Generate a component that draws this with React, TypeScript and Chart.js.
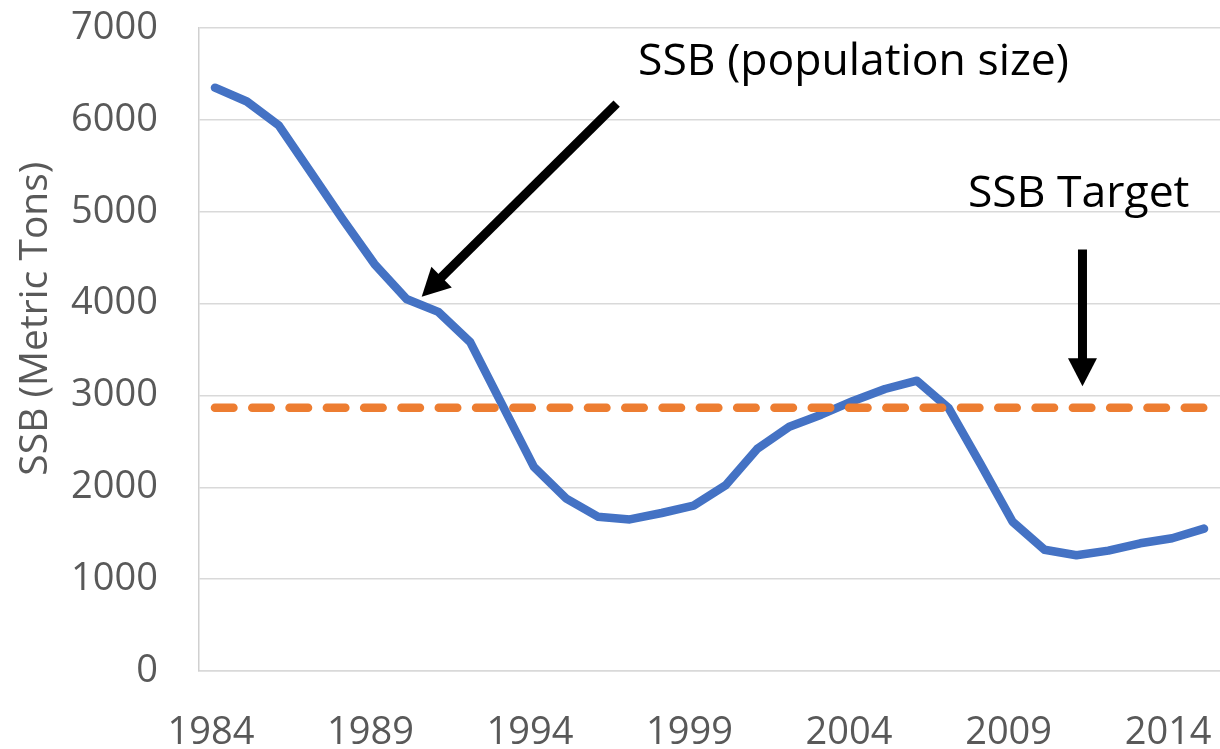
import React, { useEffect, useRef } from 'react';
import { Chart, registerables } from 'chart.js';

Chart.register(...registerables);

// ---- Data ----
const years = [
  '1984', '1985', '1986', '1987', '1988', '1989', '1990', '1991', '1992', '1993',
  '1994', '1995', '1996', '1997', '1998', '1999', '2000', '2001', '2002', '2003',
  '2004', '2005', '2006', '2007', '2008', '2009', '2010', '2011', '2012', '2013',
  '2014', '2015',
];

const ssbValues = [
  6350, 6200, 5940, 5430, 4920, 4430, 4050, 3910, 3580, 2900,
  2220, 1880, 1680, 1650, 1720, 1800, 2020, 2420, 2660, 2790,
  2940, 3070, 3160, 2860, 2250, 1625, 1320, 1260, 1310, 1390,
  1445, 1550,
];

const ssbTarget = [
  2865, 2865, 2865, 2865, 2865, 2865, 2865, 2865, 2865, 2865,
  2865, 2865, 2865, 2865, 2865, 2865, 2865, 2865, 2865, 2865,
  2865, 2865, 2865, 2865, 2865, 2865, 2865, 2865, 2865, 2865,
  2865, 2865,
];

const xTickLabels = ['1984', '1989', '1994', '1999', '2004', '2009', '2014'];

const yMin = 0;
const yMax = 7000;
const yStep = 1000;

const yAxisTitle = 'SSB (Metric Tons)';

// Annotations in data space (year, value)
const textNotes = [
  { text: 'SSB (population size)', year: 1997.26, value: 6485 },
  { text: 'SSB Target', year: 2007.6, value: 5052 },
];

const arrowNotes = [
  { fromYear: 1996.59, fromValue: 6177, toYear: 1990.48, toValue: 4073 },
  { fromYear: 2011.19, fromValue: 4589, toYear: 2011.19, toValue: 3101 },
];

const FONT = "'Open Sans', 'Noto Sans', sans-serif";

const annotationPlugin = {
  id: 'ssbAnnotations',
  afterDatasetsDraw(chart: any) {
    const { ctx, scales } = chart;
    const xs = scales.x;
    const ys = scales.y;
    const px = (yr: number) => xs.getPixelForValue(yr - 1984);
    const py = (v: number) => ys.getPixelForValue(v);

    ctx.save();
    // Arrows
    for (const a of arrowNotes) {
      const x1 = px(a.fromYear);
      const y1 = py(a.fromValue);
      const x2 = px(a.toYear);
      const y2 = py(a.toValue);
      const ang = Math.atan2(y2 - y1, x2 - x1);
      const headLen = 28;
      const headHalf = 14.5;
      const bx = x2 - headLen * Math.cos(ang);
      const by = y2 - headLen * Math.sin(ang);
      ctx.strokeStyle = '#000000';
      ctx.fillStyle = '#000000';
      ctx.lineWidth = 9;
      ctx.lineCap = 'butt';
      ctx.beginPath();
      ctx.moveTo(x1, y1);
      ctx.lineTo(bx + Math.cos(ang) * 2, by + Math.sin(ang) * 2);
      ctx.stroke();
      ctx.beginPath();
      ctx.moveTo(x2, y2);
      ctx.lineTo(bx + headHalf * Math.sin(ang), by - headHalf * Math.cos(ang));
      ctx.lineTo(bx - headHalf * Math.sin(ang), by + headHalf * Math.cos(ang));
      ctx.closePath();
      ctx.fill();
    }
    // Texts
    ctx.fillStyle = '#000000';
    ctx.font = `44.5px ${FONT}`;
    ctx.textAlign = 'left';
    ctx.textBaseline = 'alphabetic';
    for (const t of textNotes) {
      ctx.fillText(t.text, px(t.year), py(t.value));
    }
    ctx.restore();
  },
  afterDraw(chart: any) {
    const { ctx, chartArea } = chart;
    ctx.save();
    ctx.fillStyle = '#595959';
    ctx.font = `39px ${FONT}`;
    ctx.textAlign = 'center';
    ctx.textBaseline = 'alphabetic';
    ctx.translate(47, chartArea.top + (chartArea.bottom - chartArea.top) * 0.452);
    ctx.rotate(-Math.PI / 2);
    ctx.fillText(yAxisTitle, 0, 0);
    ctx.restore();
  },
};

export default function App() {
  const canvasRef = useRef<HTMLCanvasElement | null>(null);

  useEffect(() => {
    if (!canvasRef.current) return;
    const chart = new Chart(canvasRef.current, {
      type: 'line',
      data: {
        labels: years,
        datasets: [
          {
            label: 'SSB',
            data: ssbValues,
            borderColor: '#4472C4',
            backgroundColor: '#4472C4',
            borderWidth: 8.5,
            pointRadius: 0,
            borderCapStyle: 'round',
            borderJoinStyle: 'round',
            tension: 0,
            order: 2,
          },
          {
            label: 'SSB Target',
            data: ssbTarget,
            borderColor: '#ED7D31',
            backgroundColor: '#ED7D31',
            borderWidth: 8.5,
            borderDash: [18.5, 18.8],
            borderCapStyle: 'round',
            pointRadius: 0,
            tension: 0,
            order: 1,
          },
        ],
      },
      options: {
        animation: false,
        responsive: true,
        maintainAspectRatio: false,
        layout: { padding: { top: 28, right: 0, left: 0, bottom: 0 } },
        plugins: {
          legend: { display: false },
          tooltip: { enabled: false },
          title: { display: false },
        },
        scales: {
          x: {
            type: 'category',
            offset: true,
            grid: { display: false, drawTicks: false },
            border: { display: true, color: '#d9d9d9', width: 1.5 },
            ticks: {
              autoSkip: false,
              maxRotation: 0,
              minRotation: 0,
              padding: 39,
              labelOffset: -4,
              color: '#595959',
              font: { family: FONT, size: 38 },
              callback: function (this: any, value: any) {
                const lbl = years[value as number];
                return xTickLabels.includes(lbl) ? lbl : '';
              },
            },
            afterFit: (scale: any) => {
              scale.height = 78;
              scale.paddingLeft = 0;
              scale.paddingRight = 0;
            },
          },
          y: {
            min: yMin,
            max: yMax,
            grid: { display: true, color: '#d9d9d9', lineWidth: 1.5, drawTicks: false },
            border: { display: true, color: '#d0d0d0', width: 1.5 },
            ticks: {
              stepSize: yStep,
              padding: 41,
              color: '#595959',
              font: { family: FONT, size: 38 },
              callback: (value: any) => String(value),
            },
            afterFit: (scale: any) => {
              scale.width = 199;
              scale.paddingTop = 0;
              scale.paddingBottom = 0;
            },
          },
        },
      },
      plugins: [annotationPlugin],
    });
    return () => {
      chart.destroy();
    };
  }, []);

  return (
    <div style={{ position: 'fixed', left: 0, top: 0, width: 1220, height: 749, background: '#ffffff' }}>
      <canvas ref={canvasRef} />
    </div>
  );
}
